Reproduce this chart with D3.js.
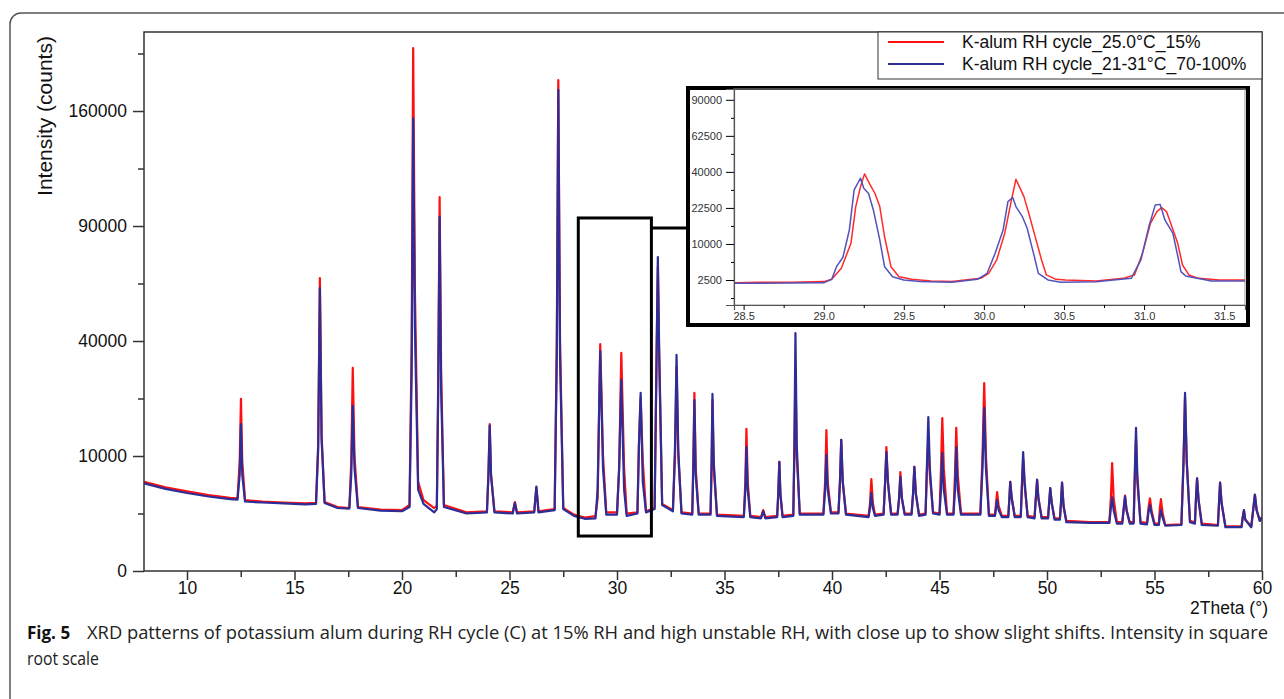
<!DOCTYPE html>
<html>
<head>
<meta charset="utf-8">
<script src="https://cdn.jsdelivr.net/npm/d3@7"></script>
<style>
  body { margin: 0; background: #fff; }
  svg { display: block; }
</style>
</head>
<body>
<div class="chart"></div>
<script>
// 2Theta positions shared by both patterns (main view)
const twoTheta = [
  8.0, 9.0, 10.0, 11.0, 12.0, 12.35, 12.45, 12.51, 12.57, 12.7, 13.5, 14.5, 15.5,
  16.0, 16.1, 16.18, 16.26, 16.4, 17.0, 17.55, 17.64, 17.71, 17.79, 17.95, 19.0, 20.0,
  20.35, 20.45, 20.52, 20.6, 20.75, 21.0, 21.5, 21.62, 21.68, 21.75, 21.82, 21.95, 23.0,
  23.95, 24.02, 24.08, 24.14, 24.3, 25.15, 25.25, 25.35, 26.15, 26.25, 26.35,
  27.1, 27.2, 27.27, 27.35, 27.5, 28.0, 28.5, 29.0, 29.1, 29.22, 29.35, 29.5,
  30.0, 30.1, 30.2, 30.33, 30.45, 30.95, 31.02, 31.1, 31.2, 31.35,
  31.75, 31.85, 31.9, 31.96, 32.1, 32.6, 32.7, 32.77, 32.85, 33.0,
  33.5, 33.55, 33.6, 33.66, 33.8, 34.35, 34.4, 34.44, 34.5, 34.65,
  35.9, 35.97, 36.02, 36.08, 36.2, 36.7, 36.8, 36.9, 37.45, 37.5, 37.55, 37.6, 37.7,
  38.2, 38.25, 38.3, 38.36, 38.5, 39.6, 39.68, 39.74, 39.8, 39.95,
  40.3, 40.37, 40.43, 40.5, 40.65, 41.7, 41.77, 41.83, 41.9, 42.0,
  42.4, 42.47, 42.53, 42.6, 42.75, 43.05, 43.12, 43.18, 43.25, 43.38,
  43.7, 43.77, 43.83, 43.9, 44.05, 44.35, 44.42, 44.48, 44.55, 44.7,
  45.0, 45.07, 45.13, 45.2, 45.35, 45.65, 45.72, 45.78, 45.85, 46.0,
  46.9, 47.0, 47.08, 47.16, 47.3, 47.58, 47.63, 47.68, 47.75, 47.9,
  48.2, 48.25, 48.29, 48.36, 48.5, 48.78, 48.84, 48.89, 48.96, 49.1,
  49.42, 49.48, 49.54, 49.6, 49.75, 50.05, 50.1, 50.15, 50.22, 50.35,
  50.6, 50.65, 50.7, 50.77, 50.9, 52.0, 52.9, 52.97, 53.03, 53.1, 53.25,
  53.5, 53.57, 53.63, 53.7, 53.85, 54.03, 54.08, 54.14, 54.2, 54.35,
  54.65, 54.72, 54.79, 54.86, 55.0, 55.2, 55.25, 55.3, 55.37, 55.5,
  56.25, 56.35, 56.42, 56.5, 56.65, 56.88, 56.93, 56.98, 57.05, 57.2,
  57.95, 58.0, 58.05, 58.12, 58.3, 59.05, 59.1, 59.16, 59.22, 59.5,
  59.6, 59.67, 59.75, 59.9, 60.0
];

// K-alum RH cycle_25.0°C_15%
const countsRed = [
  6000, 5300, 4800, 4350, 4050, 4000, 9000, 22400, 9000, 3800, 3650, 3550, 3450,
  3500, 12000, 64900, 14000, 3600, 3100, 3000, 9000, 31200, 10000, 3100, 2850, 2800,
  3300, 40000, 206800, 60000, 6000, 3800, 3000, 3200, 25000, 105700, 30000, 3300, 2600,
  2700, 7000, 16300, 7000, 2700, 2600, 3600, 2600, 2700, 5300, 2700,
  2900, 40000, 182300, 40000, 3000, 2400, 2150, 2280, 4000, 38900, 10000, 2600,
  2600, 8000, 36000, 8000, 2500, 2600, 12000, 22600, 9000, 2700,
  3000, 40000, 70000, 35000, 3400, 2800, 10000, 31500, 10000, 2600,
  2500, 9000, 24000, 8000, 2500, 2500, 8000, 22100, 8000, 2400,
  2300, 6000, 15300, 6000, 2300, 2200, 2800, 2200, 2300, 4500, 9000, 4500, 2300,
  2400, 10000, 31200, 10000, 2500, 2500, 6000, 15000, 6000, 2600,
  2600, 6000, 13000, 6000, 2500, 2300, 3500, 6400, 3500, 2400,
  2500, 6000, 11600, 6000, 2500, 2500, 4000, 7400, 4000, 2500,
  2500, 4500, 8200, 4500, 2400, 2500, 8000, 13000, 7000, 2600,
  2500, 8000, 17700, 8000, 2500, 2500, 7000, 15500, 7000, 2500,
  2500, 10000, 26700, 10000, 2400, 2400, 3500, 4700, 3200, 2300,
  2300, 4000, 6000, 4000, 2300, 2300, 6000, 9500, 5500, 2300,
  2200, 4000, 6300, 4000, 2200, 2200, 3500, 5200, 3500, 2100,
  2100, 3500, 5900, 3200, 1900, 1800, 1800, 4000, 8800, 4000, 1800,
  1800, 3000, 4300, 2800, 1800, 1800, 6000, 13000, 6000, 1800,
  1750, 3000, 4000, 2800, 1700, 1700, 3000, 3900, 2600, 1600,
  1650, 9000, 22900, 9000, 1900, 1800, 4000, 6500, 3800, 1700,
  1600, 3500, 5900, 3500, 1500, 1500, 2200, 2800, 2000, 1500,
  3000, 4400, 2800, 1900, 2200
];

// K-alum RH cycle_21-31°C_70-100%
const countsBlue = [
  5800, 5100, 4600, 4200, 3900, 3850, 7000, 16300, 7000, 3650, 3550, 3450, 3350,
  3400, 11000, 60500, 13000, 3500, 3000, 2950, 7000, 20600, 8000, 3000, 2750, 2700,
  3100, 30000, 155000, 45000, 5000, 3400, 2600, 2900, 22000, 94800, 25000, 3100, 2500,
  2600, 7000, 16000, 7000, 2600, 2500, 3500, 2500, 2600, 5400, 2600,
  2800, 35000, 175000, 35000, 2900, 2300, 2060, 2100, 5000, 36600, 8000, 2400,
  2400, 8000, 27600, 5000, 2300, 2500, 12000, 24000, 6000, 2600,
  2900, 40000, 74500, 38000, 3300, 2700, 12000, 35300, 11000, 2500,
  2400, 8000, 22100, 7000, 2400, 2400, 9000, 23700, 9000, 2300,
  2200, 5000, 11600, 5000, 2200, 2100, 2700, 2100, 2200, 4500, 9000, 4500, 2200,
  2300, 12000, 42800, 12000, 2400, 2400, 5000, 10200, 5000, 2500,
  2500, 6000, 13000, 6000, 2400, 2200, 3000, 4600, 3000, 2300,
  2400, 6000, 10700, 6000, 2400, 2400, 4000, 6700, 4000, 2400,
  2400, 4500, 8200, 4500, 2300, 2400, 9000, 17900, 8000, 2500,
  2400, 5000, 10500, 5000, 2400, 2400, 5000, 11600, 5000, 2400,
  2400, 8000, 20100, 8000, 2300, 2300, 3000, 3800, 2800, 2200,
  2200, 4000, 6000, 4000, 2200, 2200, 6000, 10700, 6000, 2200,
  2100, 4000, 6300, 4000, 2100, 2100, 3500, 5200, 3500, 2000,
  2000, 3500, 5900, 3200, 1800, 1750, 1750, 3000, 4100, 2800, 1700,
  1700, 3000, 4200, 2800, 1700, 1700, 7000, 15500, 7000, 1700,
  1650, 2600, 3300, 2500, 1600, 1600, 2300, 2800, 2200, 1550,
  1600, 9000, 24000, 9000, 1800, 1700, 4000, 6500, 3800, 1600,
  1550, 3500, 5900, 3500, 1450, 1450, 2100, 2800, 2000, 1450,
  3000, 4400, 2800, 1900, 2200
];

// Close-up, 28.4 - 31.6 degrees
const insetThetaRed = [
  28.44, 28.6, 28.8, 29.0, 29.05, 29.11, 29.17, 29.2, 29.23, 29.255, 29.29, 29.32, 29.35,
  29.38, 29.42, 29.47, 29.55, 29.67, 29.8, 29.98, 30.03, 30.08, 30.13, 30.17, 30.2,
  30.25, 30.28, 30.32, 30.36, 30.39, 30.45, 30.51, 30.7, 30.87, 30.94, 30.99, 31.04,
  31.08, 31.11, 31.14, 31.17, 31.21, 31.24, 31.28, 31.34, 31.47, 31.63
];
const insetRed = [
  2140, 2180, 2200, 2280, 2590, 4380, 10180, 23070, 32260, 38890, 33120, 28900, 23070,
  12100, 4690, 2980, 2590, 2370, 2300, 2730, 3510, 6050, 13180, 25220, 36020,
  27460, 20330, 12140, 6050, 3250, 2590, 2500, 2370, 2730, 3250, 7570, 16560,
  21000, 22650, 21000, 15980, 10180, 5010, 3250, 2730, 2500, 2500
];
const insetThetaBlue = [
  28.44, 28.6, 28.8, 29.0, 29.05, 29.08, 29.12, 29.16, 29.19, 29.23, 29.25, 29.28, 29.31,
  29.35, 29.38, 29.43, 29.5, 29.6, 29.8, 29.96, 30.02, 30.07, 30.12, 30.15, 30.18,
  30.2, 30.24, 30.27, 30.31, 30.34, 30.4, 30.48, 30.7, 30.92, 30.98, 31.03, 31.07,
  31.1, 31.13, 31.18, 31.21, 31.23, 31.26, 31.3, 31.42, 31.63
];
const insetBlue = [
  2060, 2080, 2100, 2120, 2590, 4690, 6640, 14260, 30630, 36560, 31440, 28900, 21670,
  11150, 4690, 2980, 2500, 2280, 2200, 2590, 3510, 7570, 14260, 25220, 27040,
  23070, 19040, 14830, 7570, 3510, 2500, 2200, 2250, 2730, 6050, 15400, 23780,
  24000, 17770, 13180, 7000, 3800, 3090, 2900, 2370, 2370
];

// Axis ticks
const xTicks = [10, 15, 20, 25, 30, 35, 40, 45, 50, 55, 60];
const xMinorTicks = [12.5, 17.5, 22.5, 27.5, 32.5, 37.5, 42.5, 47.5, 52.5, 57.5];
const yTicks = [0, 10000, 40000, 90000, 160000];
const yMinorTicks = [2500, 22500, 62500, 122500, 202500];
const insetXTicks = [28.5, 29.0, 29.5, 30.0, 30.5, 31.0, 31.5];
const insetXMinorTicks = [28.75, 29.25, 29.75, 30.25, 30.75, 31.25];
const insetYTicks = [2500, 10000, 22500, 40000, 62500, 90000];
const insetYMinorTicks = [625, 5625, 15625, 30625, 50625, 75625];

const seriesNames = ["K-alum RH cycle_25.0°C_15%", "K-alum RH cycle_21-31°C_70-100%"];
const colors = ["#ff1010", "#2d2d98"];
const insetColors = ["#ff2a2a", "#5252bb"];

const W = 1284, H = 699;
const plot = {left: 144, right: 1262, top: 32, bottom: 571};
const inset = {left: 734, right: 1245, top: 89, bottom: 305};
const axisFont = "'Liberation Sans', Arial, sans-serif";
const captionFont = "'Open Sans', 'Noto Sans', sans-serif";

const svg = d3.select(".chart").append("svg")
  .attr("width", W).attr("height", H)
  .style("font-family", axisFont);

// outer figure frame (rounded, runs off the page on the right and bottom)
svg.append("rect")
  .attr("x", 10).attr("y", 13).attr("width", 1300).attr("height", 720)
  .attr("rx", 11).attr("fill", "none").attr("stroke", "#555").attr("stroke-width", 1.5);

// scales
const x = d3.scaleLinear().domain([8, 60]).range([plot.left, plot.right]);
const y = d3.scaleSqrt().domain([0, 219700]).range([plot.bottom, plot.top]);

svg.append("clipPath").attr("id", "plotClip").append("rect")
  .attr("x", plot.left).attr("y", plot.top)
  .attr("width", plot.right - plot.left).attr("height", plot.bottom - plot.top);

// patterns
const line = d3.line().x(d => x(d[0])).y(d => y(d[1]));
[countsRed, countsBlue].forEach((counts, i) => {
  svg.append("path")
    .datum(twoTheta.map((t, k) => [t, counts[k]]))
    .attr("clip-path", "url(#plotClip)")
    .attr("fill", "none")
    .attr("stroke", colors[i])
    .attr("stroke-width", 2.2)
    .attr("stroke-linejoin", "round")
    .attr("d", line);
});

// frame
svg.append("rect")
  .attr("x", plot.left).attr("y", plot.top)
  .attr("width", plot.right - plot.left).attr("height", plot.bottom - plot.top)
  .attr("fill", "none").attr("stroke", "#333").attr("stroke-width", 1.5);

// X axis
const xAxis = svg.append("g")
  .attr("class", "main")
  .attr("transform", "translate(0," + plot.bottom + ")")
  .call(d3.axisBottom(x).tickValues(xTicks).tickSize(9).tickPadding(2).tickFormat(d3.format("d")));
svg.append("g")
  .attr("class", "main")
  .attr("transform", "translate(0," + plot.bottom + ")")
  .call(d3.axisBottom(x).tickValues(xMinorTicks).tickSize(6).tickFormat(""));

// Y axis
const yAxis = svg.append("g")
  .attr("class", "main")
  .attr("transform", "translate(" + plot.left + ",0)")
  .call(d3.axisLeft(y).tickValues(yTicks).tickSize(11).tickPadding(6).tickFormat(d3.format("d")));
svg.append("g")
  .attr("class", "main")
  .attr("transform", "translate(" + plot.left + ",0)")
  .call(d3.axisLeft(y).tickValues(yMinorTicks).tickSize(6).tickFormat(""));

svg.selectAll(".main .domain").remove();
svg.selectAll(".main .tick line").attr("stroke", "#333").attr("stroke-width", 1.5);
[xAxis, yAxis].forEach(g => {
  g.selectAll("text").style("font-size", "17.5px").attr("fill", "#111")
    .style("font-family", axisFont);
});

// axis titles
svg.append("text")
  .attr("transform", "translate(52,116) rotate(-90)")
  .attr("text-anchor", "middle")
  .style("font-size", "21px").attr("fill", "#111")
  .text("Intensity (counts)");
svg.append("text")
  .attr("x", 1268).attr("y", 614)
  .attr("text-anchor", "end")
  .style("font-size", "17.5px").attr("fill", "#111")
  .text("2Theta (°)");

// zoom box and connector
const boxX0 = 28.2, boxX1 = 31.6, boxY0 = 925, boxY1 = 94250;
svg.append("rect")
  .attr("x", x(boxX0)).attr("y", y(boxY1))
  .attr("width", x(boxX1) - x(boxX0)).attr("height", y(boxY0) - y(boxY1))
  .attr("fill", "none").attr("stroke", "#000").attr("stroke-width", 3);
svg.append("line")
  .attr("x1", x(boxX1)).attr("x2", 688)
  .attr("y1", y(89000)).attr("y2", y(89000))
  .attr("stroke", "#000").attr("stroke-width", 3);

// inset panel
svg.append("rect")
  .attr("x", 688).attr("y", 88).attr("width", 560).attr("height", 237)
  .attr("fill", "#fff").attr("stroke", "#000").attr("stroke-width", 4);

const xi = d3.scaleLinear().domain([28.44, 31.63]).range([inset.left, inset.right]);
const yi = d3.scaleSqrt().domain([234, 99225]).range([inset.bottom, inset.top]);

svg.append("clipPath").attr("id", "insetClip").append("rect")
  .attr("x", inset.left).attr("y", inset.top)
  .attr("width", inset.right - inset.left).attr("height", inset.bottom - inset.top);

// thin inner frame
svg.append("rect")
  .attr("x", inset.left).attr("y", inset.top)
  .attr("width", inset.right - inset.left).attr("height", inset.bottom - inset.top)
  .attr("fill", "none").attr("stroke", "#999").attr("stroke-width", 1);

const insetLine = d3.line().x(d => xi(d[0])).y(d => yi(d[1]));
[[insetThetaRed, insetRed], [insetThetaBlue, insetBlue]].forEach((s, i) => {
  svg.append("path")
    .datum(s[0].map((t, k) => [t, s[1][k]]))
    .attr("clip-path", "url(#insetClip)")
    .attr("fill", "none")
    .attr("stroke", insetColors[i])
    .attr("stroke-width", 1.5)
    .attr("stroke-linejoin", "round")
    .attr("d", insetLine);
});

const ixAxis = svg.append("g")
  .attr("transform", "translate(0," + inset.bottom + ")")
  .call(d3.axisBottom(xi).tickValues(insetXTicks).tickSize(5).tickPadding(2).tickFormat(d3.format(".1f")));
svg.append("g")
  .attr("transform", "translate(0," + inset.bottom + ")")
  .call(d3.axisBottom(xi).tickValues(insetXMinorTicks).tickSize(3).tickFormat(""))
  .select(".domain").remove();
const iyAxis = svg.append("g")
  .attr("transform", "translate(" + inset.left + ",0)")
  .call(d3.axisLeft(yi).tickValues(insetYTicks).tickSize(8).tickPadding(4).tickFormat(d3.format("d")));
svg.append("g")
  .attr("transform", "translate(" + inset.left + ",0)")
  .call(d3.axisLeft(yi).tickValues(insetYMinorTicks).tickSize(3).tickFormat(""))
  .select(".domain").remove();

[ixAxis, iyAxis].forEach(g => {
  g.select(".domain").attr("stroke", "#555").attr("stroke-width", 1.2);
  g.selectAll("text").style("font-size", "11px").attr("fill", "#333")
    .style("font-family", axisFont);
});

// legend
const legend = svg.append("g");
legend.append("rect")
  .attr("x", 878).attr("y", 32).attr("width", 384).attr("height", 47)
  .attr("fill", "#fff").attr("stroke", "#333").attr("stroke-width", 1);
seriesNames.forEach((name, i) => {
  const ly = 42 + i * 22;
  legend.append("line")
    .attr("x1", 888).attr("x2", 944).attr("y1", ly).attr("y2", ly)
    .attr("stroke", colors[i]).attr("stroke-width", 2);
  legend.append("text")
    .attr("x", 962).attr("y", ly + 6)
    .style("font-size", "17.5px").attr("fill", "#111")
    .text(name);
});

// caption
svg.append("text")
  .attr("x", 27).attr("y", 639)
  .style("font-family", captionFont)
  .style("font-size", "17px").style("font-weight", "bold").attr("fill", "#111")
  .text("Fig. 5");
svg.append("text")
  .attr("x", 87).attr("y", 639)
  .attr("textLength", 1181).attr("lengthAdjust", "spacingAndGlyphs")
  .style("font-family", captionFont)
  .style("font-size", "18px").attr("fill", "#222")
  .text("XRD patterns of potassium alum during RH cycle (C) at 15% RH and high unstable RH, with close up to show slight shifts. Intensity in square");
svg.append("text")
  .attr("x", 27).attr("y", 665)
  .attr("textLength", 72).attr("lengthAdjust", "spacingAndGlyphs")
  .style("font-family", captionFont)
  .style("font-size", "18px").attr("fill", "#222")
  .text("root scale");
</script>
</body>
</html>
